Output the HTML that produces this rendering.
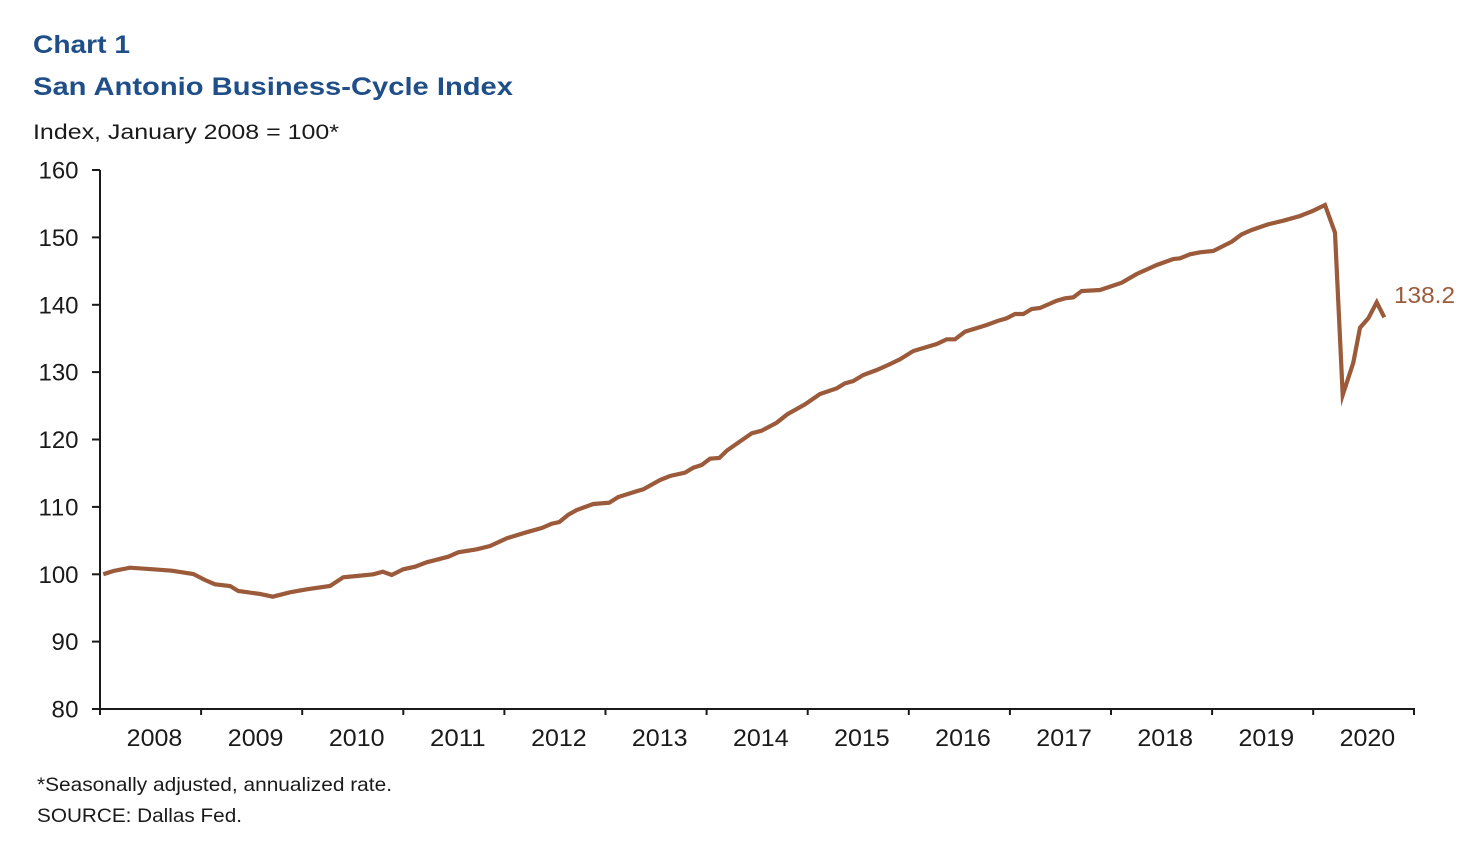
<!DOCTYPE html>
<html>
<head>
<meta charset="utf-8">
<style>
  html, body { margin: 0; padding: 0; background: #ffffff; }
  svg { display: block; }
  text { font-family: "Liberation Sans", Arial, sans-serif; }
</style>
</head>
<body>
<svg width="1481" height="843" viewBox="0 0 1481 843" xmlns="http://www.w3.org/2000/svg">
  <rect x="0" y="0" width="1481" height="843" fill="#ffffff"/>

  <!-- Titles -->
  <text x="33" y="53" font-size="25" font-weight="bold" fill="#1f4e88" textLength="97" lengthAdjust="spacingAndGlyphs">Chart 1</text>
  <text x="33" y="95" font-size="25" font-weight="bold" fill="#1f4e88" textLength="480" lengthAdjust="spacingAndGlyphs">San Antonio Business-Cycle Index</text>
  <text x="33" y="139" font-size="21.5" fill="#1a1a1a" textLength="306" lengthAdjust="spacingAndGlyphs">Index, January 2008 = 100*</text>

  <!-- Y axis labels -->
  <g font-size="24" fill="#1a1a1a" text-anchor="end" lengthAdjust="spacingAndGlyphs">
    <text x="78.5" y="178.5" textLength="40">160</text>
    <text x="78.5" y="245.9" textLength="40">150</text>
    <text x="78.5" y="313.3" textLength="40">140</text>
    <text x="78.5" y="380.6" textLength="40">130</text>
    <text x="78.5" y="448" textLength="40">120</text>
    <text x="78.5" y="515.4" textLength="40">110</text>
    <text x="78.5" y="582.8" textLength="40">100</text>
    <text x="78.5" y="650.1" textLength="27">90</text>
    <text x="78.5" y="717.5" textLength="27">80</text>
  </g>

  <!-- Axes -->
  <g stroke="#1a1a1a" stroke-width="2" fill="none">
    <line x1="100" y1="170" x2="100" y2="709"/>
    <line x1="99" y1="709" x2="1415" y2="709"/>
    <!-- y ticks -->
    <line x1="92" y1="170" x2="100" y2="170"/>
    <line x1="92" y1="237.4" x2="100" y2="237.4"/>
    <line x1="92" y1="304.8" x2="100" y2="304.8"/>
    <line x1="92" y1="372.1" x2="100" y2="372.1"/>
    <line x1="92" y1="439.5" x2="100" y2="439.5"/>
    <line x1="92" y1="506.9" x2="100" y2="506.9"/>
    <line x1="92" y1="574.3" x2="100" y2="574.3"/>
    <line x1="92" y1="641.6" x2="100" y2="641.6"/>
    <line x1="92" y1="709" x2="100" y2="709"/>
    <!-- x ticks -->
    <line x1="100" y1="709" x2="100" y2="715"/>
    <line x1="201.1" y1="709" x2="201.1" y2="715"/>
    <line x1="302.2" y1="709" x2="302.2" y2="715"/>
    <line x1="403.3" y1="709" x2="403.3" y2="715"/>
    <line x1="504.4" y1="709" x2="504.4" y2="715"/>
    <line x1="605.5" y1="709" x2="605.5" y2="715"/>
    <line x1="706.6" y1="709" x2="706.6" y2="715"/>
    <line x1="807.7" y1="709" x2="807.7" y2="715"/>
    <line x1="908.8" y1="709" x2="908.8" y2="715"/>
    <line x1="1009.9" y1="709" x2="1009.9" y2="715"/>
    <line x1="1111" y1="709" x2="1111" y2="715"/>
    <line x1="1212.1" y1="709" x2="1212.1" y2="715"/>
    <line x1="1313.2" y1="709" x2="1313.2" y2="715"/>
    <line x1="1414" y1="709" x2="1414" y2="715"/>
  </g>

  <!-- X labels -->
  <g font-size="24" fill="#1a1a1a" text-anchor="middle">
    <text x="154.5" y="746" textLength="55.6" lengthAdjust="spacingAndGlyphs">2008</text>
    <text x="255.6" y="746" textLength="55.6" lengthAdjust="spacingAndGlyphs">2009</text>
    <text x="356.7" y="746" textLength="55.6" lengthAdjust="spacingAndGlyphs">2010</text>
    <text x="457.8" y="746" textLength="55.6" lengthAdjust="spacingAndGlyphs">2011</text>
    <text x="558.9" y="746" textLength="55.6" lengthAdjust="spacingAndGlyphs">2012</text>
    <text x="659.7" y="746" textLength="55.6" lengthAdjust="spacingAndGlyphs">2013</text>
    <text x="760.8" y="746" textLength="55.6" lengthAdjust="spacingAndGlyphs">2014</text>
    <text x="861.9" y="746" textLength="55.6" lengthAdjust="spacingAndGlyphs">2015</text>
    <text x="963" y="746" textLength="55.6" lengthAdjust="spacingAndGlyphs">2016</text>
    <text x="1064.1" y="746" textLength="55.6" lengthAdjust="spacingAndGlyphs">2017</text>
    <text x="1165.2" y="746" textLength="55.6" lengthAdjust="spacingAndGlyphs">2018</text>
    <text x="1266.3" y="746" textLength="55.6" lengthAdjust="spacingAndGlyphs">2019</text>
    <text x="1367.4" y="746" textLength="55.6" lengthAdjust="spacingAndGlyphs">2020</text>
  </g>

  <!-- Series -->
  <polyline fill="none" stroke="#9b5a3a" stroke-width="4.2" stroke-linejoin="miter" stroke-miterlimit="10"
    points="103.3,574.3 113.3,571 130,567.7 153.3,569.3 171.7,570.7 193.3,574 205,580 215,584.3 230,586 238.3,591 260,594 272.7,596.7 290,592.3 306.7,589.3 330,586 343.3,577.3 356.7,576 373.3,574.3 382.7,571.7 391.7,575 403.3,569.3 415,566.7 426.7,562.3 448.3,556.7 458.3,552.3 476.7,549.3 490,546 506.7,538.3 525,532.7 541.7,528 551.7,523.7 559.3,522 568.3,514.7 576.7,510 593.3,504 609.3,502.7 618.3,497 635,491.7 643.3,489.3 660,480 670,476 685,472.7 693.3,467.7 701.7,465 710,458.7 719.3,458 726.7,450.7 751.7,433.3 761.7,430.7 776.7,422.7 787.3,414.3 805,404.3 820,394 836.7,388.3 845,383.3 853.3,381 863.3,375 876.7,370 888,365 900,359.3 913.3,351 936.7,344 946.7,339.3 955,339.3 965,331.7 986.7,325 998.3,320.7 1006.7,318.3 1015,314 1023.3,314 1031.7,309 1040,308 1056.7,300.7 1065,298.3 1073.3,297.3 1081.7,291 1100,290 1121.7,282.7 1136.7,274 1156.7,265 1173.3,259 1180,258.3 1190,254.3 1200,252.3 1213.3,251 1231.7,241.7 1241.7,234.3 1251.7,230 1268.3,224.3 1283.3,220.7 1300,216 1313.3,210.7 1325,205 1335,232.7 1342.7,395 1353.3,362.7 1360,327.7 1368.3,318.3 1376.7,302.3 1384.3,317.3"/>

  <!-- End label -->
  <text x="1394" y="303" font-size="23" fill="#9b5a3a" textLength="61" lengthAdjust="spacingAndGlyphs">138.2</text>

  <!-- Footnotes -->
  <text x="37" y="791" font-size="19.5" fill="#1a1a1a" textLength="355" lengthAdjust="spacingAndGlyphs">*Seasonally adjusted, annualized rate.</text>
  <text x="37" y="822" font-size="19.5" fill="#1a1a1a" textLength="205" lengthAdjust="spacingAndGlyphs">SOURCE: Dallas Fed.</text>
</svg>
</body>
</html>
